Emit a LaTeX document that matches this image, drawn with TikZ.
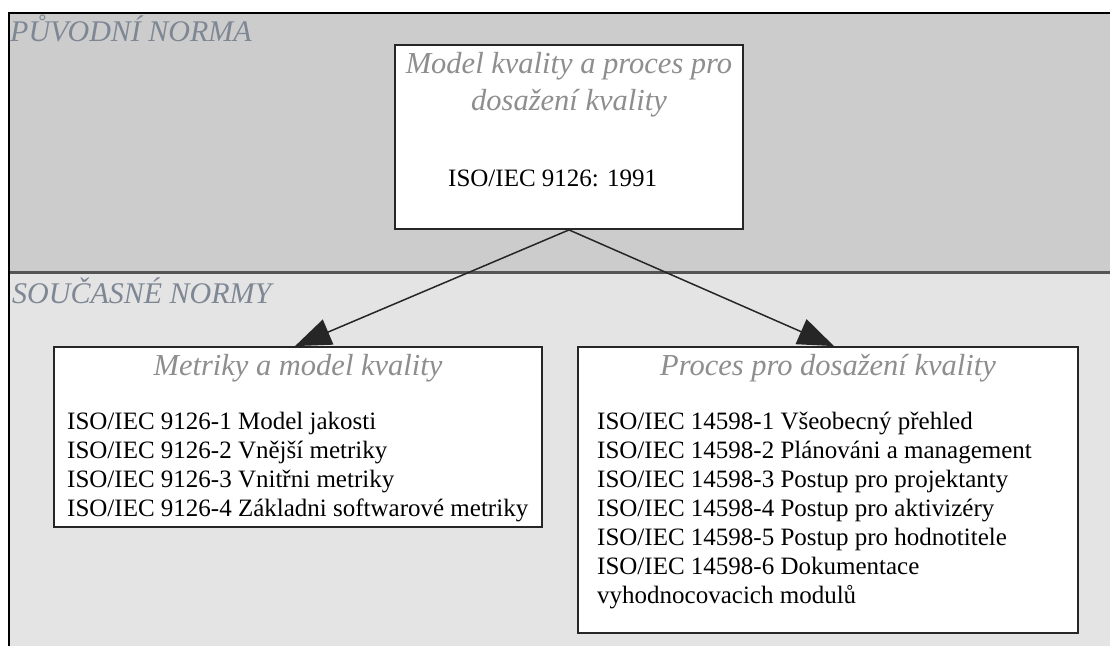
\documentclass[tikz,border=0pt]{standalone}
\usepackage{fontspec}
\setmainfont{Liberation Serif}
\usetikzlibrary{arrows.meta}

\definecolor{bandtop}{HTML}{CCCCCC}
\definecolor{bandlow}{HTML}{E4E4E4}
\definecolor{sepline}{HTML}{555555}
\definecolor{titlegray}{HTML}{8E8E8E}
\definecolor{labelgray}{HTML}{7E8794}
\definecolor{boxline}{HTML}{262626}

\tikzset{
  normbox/.style={draw=boxline, line width=1.8pt, fill=white, inner sep=0pt},
  boxtitle/.style={font=\fontsize{30.5}{36}\selectfont\itshape, text=titlegray, inner sep=0pt, anchor=base},
  bandlabel/.style={font=\fontsize{30}{36}\selectfont\itshape, text=labelgray, inner sep=0pt, anchor=base west},
  entry/.style={font=\fontsize{25}{29}\selectfont, text=black, inner sep=0pt, anchor=base west},
  link/.style={draw=black!85, line width=1.5pt, -{Triangle[length=36pt, width=27pt]}}
}

\begin{document}
\begin{tikzpicture}[x=1pt, y=-1pt]
  \useasboundingbox (0,0) rectangle (1110,646);

  % bands for the original and the current standards
  \fill[bandtop] (9,13) rectangle (1110,272);
  \fill[bandlow] (9,272) rectangle (1110,646);
  \draw[sepline, line width=2.4pt] (9,272.5) -- (1110,272.5);
  \draw[black, line width=2pt] (1110,13) -- (9,13) -- (9,646);

  \node[bandlabel] (lblorig) at (10,41) {PŮVODNÍ NORMA};
  \node[bandlabel] (lblcur) at (12,303) {SOUČASNÉ NORMY};

  % boxes
  \node[normbox, minimum width=348pt, minimum height=184pt] (orig) at (569,137) {};
  \node[normbox, minimum width=488pt, minimum height=180pt] (metr) at (298,437) {};
  \node[normbox, minimum width=500pt, minimum height=286pt] (proc) at (828,490) {};

  % original standard
  \node[boxtitle] (origt1) at (569,73) {Model kvality a proces pro};
  \node[boxtitle] (origt2) at (569,110) {dosažení kvality};
  \node[entry] (origid) at (448,186) {ISO/IEC 9126: 1991};

  % metrics and quality model
  \node[boxtitle] (metrt) at (298,375) {Metriky a model kvality};
  \node[entry] (m1) at (67,429) {ISO/IEC 9126-1 Model jakosti};
  \node[entry] (m2) at (67,458) {ISO/IEC 9126-2 Vnější metriky};
  \node[entry] (m3) at (67,487) {ISO/IEC 9126-3 Vnitřni metriky};
  \node[entry] (m4) at (67,516) {ISO/IEC 9126-4 Základni softwarové metriky};

  % evaluation process
  \node[boxtitle] (proct) at (828,375) {Proces pro dosažení kvality};
  \node[entry] (p1) at (597,429) {ISO/IEC 14598-1 Všeobecný přehled};
  \node[entry] (p2) at (597,458) {ISO/IEC 14598-2 Plánováni a management};
  \node[entry] (p3) at (597,487) {ISO/IEC 14598-3 Postup pro projektanty};
  \node[entry] (p4) at (597,516) {ISO/IEC 14598-4 Postup pro aktivizéry};
  \node[entry] (p5) at (597,545) {ISO/IEC 14598-5 Postup pro hodnotitele};
  \node[entry] (p6) at (597,574) {ISO/IEC 14598-6 Dokumentace};
  \node[entry] (p7) at (597,603) {vyhodnocovacich modulů};

  % connectors
  \draw[link] (orig.south) -- ([xshift=-3pt]metr.north);
  \draw[link] (orig.south) -- ([xshift=6pt]proc.north);
\end{tikzpicture}
\end{document}
